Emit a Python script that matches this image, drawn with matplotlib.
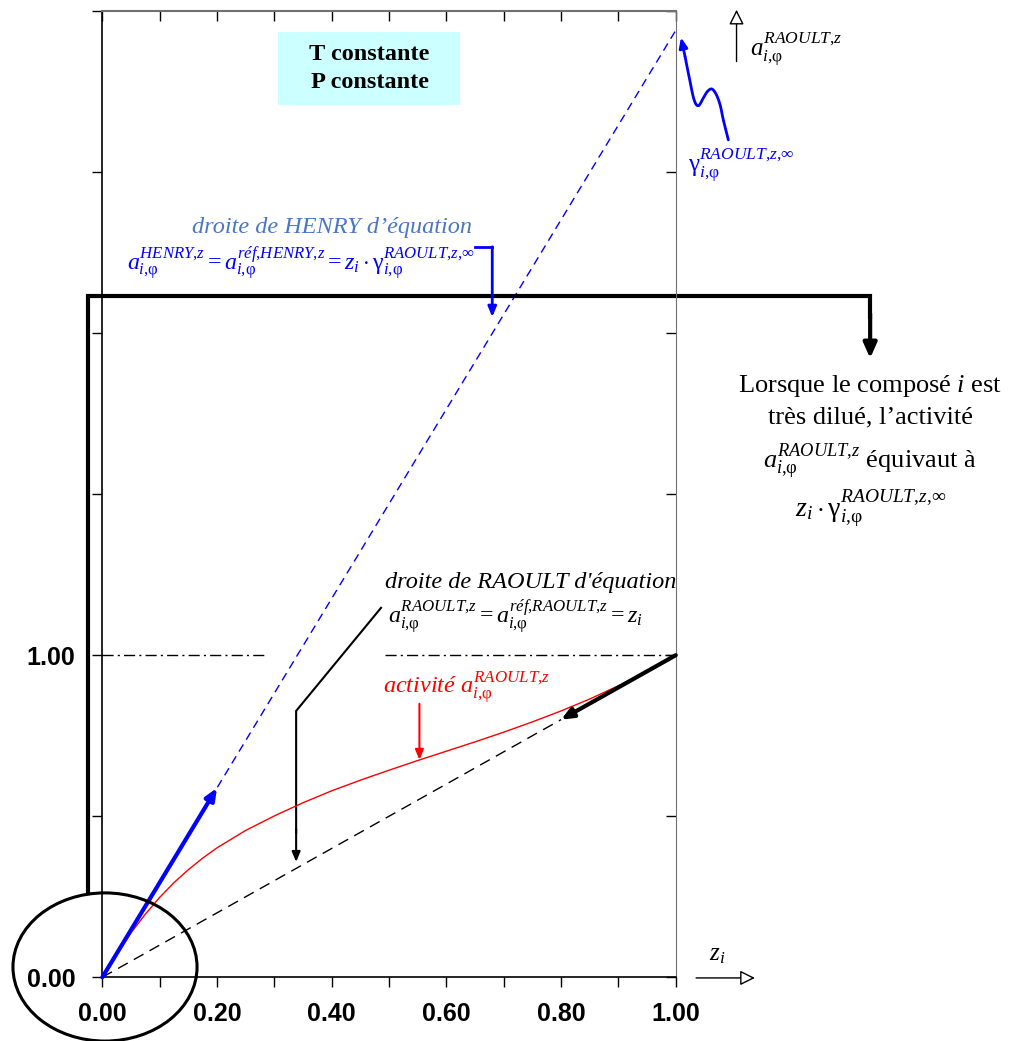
import numpy as np
import matplotlib
matplotlib.use("Agg")
import matplotlib.pyplot as plt
from matplotlib.patches import Ellipse, Rectangle

plt.rcParams['font.family'] = ['Liberation Serif', 'DejaVu Serif']
plt.rcParams['mathtext.fontset'] = 'custom'
plt.rcParams['mathtext.rm'] = 'Liberation Serif'
plt.rcParams['mathtext.it'] = 'Liberation Serif:italic'
plt.rcParams['mathtext.bf'] = 'Liberation Serif:bold'

# ---- data ----
z_activity = [0.0, 0.025, 0.05, 0.075, 0.1, 0.125, 0.15, 0.175, 0.2, 0.25, 0.3, 0.35,
              0.4, 0.45, 0.5, 0.55, 0.6, 0.65, 0.7, 0.75, 0.8, 0.85, 0.9, 0.95, 1.0]
a_activity = [0.0, 0.072, 0.138, 0.196, 0.248, 0.294, 0.334, 0.370, 0.402, 0.456, 0.501,
              0.542, 0.579, 0.612, 0.643, 0.673, 0.702, 0.731, 0.761, 0.793, 0.827,
              0.864, 0.905, 0.951, 1.0]
gamma_inf = 2.94
z_henry = [0.0, 1.0]
z_raoult_dashed = [0.0, 0.8]
x_ticks = [0.0, 0.1, 0.2, 0.3, 0.4, 0.5, 0.6, 0.7, 0.8, 0.9, 1.0]
x_labels = ['0.00', '', '0.20', '', '0.40', '', '0.60', '', '0.80', '', '1.00']
y_ticks = [0.0, 0.5, 1.0, 1.5, 2.0, 2.5, 3.0]
y_labels = ['0.00', '', '1.00', '', '', '', '']

SUB = r'_{i{,}\mathrm{\varphi}}'
GAM = r'\mathrm{\gamma}'


def smooth_path(xs, ys, n=12):
    """Catmull-Rom smoothing of a decorative annotation path."""
    P = np.column_stack([xs, ys])
    P = np.vstack([P[0], P, P[-1]])
    out = []
    for k in range(1, len(P) - 2):
        p0, p1, p2, p3 = P[k - 1], P[k], P[k + 1], P[k + 2]
        for t in np.linspace(0, 1, n, endpoint=False):
            t2, t3 = t * t, t * t * t
            out.append(0.5 * ((2 * p1) + (-p0 + p2) * t +
                              (2 * p0 - 5 * p1 + 4 * p2 - p3) * t2 +
                              (-p0 + 3 * p1 - 3 * p2 + p3) * t3))
    out.append(P[-2])
    out = np.array(out)
    return out[:, 0], out[:, 1]


fig = plt.figure(figsize=(10.11, 10.41), dpi=100)
ax = fig.add_axes([0.1012, 0.0612, 0.5672, 0.9282])
ax.set_xlim(0, 1)
ax.set_ylim(0, 3)

# curves
ax.plot(z_activity, a_activity, color='red', lw=1.0, zorder=3)
ax.plot(z_henry, [gamma_inf * z for z in z_henry], color='blue', lw=1.0,
        dashes=(6, 4), zorder=2)
ax.plot(z_raoult_dashed, z_raoult_dashed, color='black', lw=1.0, dashes=(8, 5), zorder=2)
# dash-dot reference at a = 1
ax.plot([0.0, 0.289], [1.0, 1.0], color='black', lw=1.0, dashes=(8, 3, 1.5, 3))
ax.plot([0.493, 1.0], [1.0, 1.0], color='black', lw=1.0, dashes=(8, 3, 1.5, 3))

# thick arrows
ax.annotate('', xy=(0.2, 0.2 * gamma_inf), xytext=(0, 0),
            arrowprops=dict(arrowstyle='-|>,head_length=0.7,head_width=0.3', color='blue',
                            lw=3, shrinkA=0, shrinkB=0), zorder=4)
ax.annotate('', xy=(0.8, 0.8), xytext=(1.0, 1.0),
            arrowprops=dict(arrowstyle='-|>,head_length=0.7,head_width=0.3', color='black',
                            lw=3, shrinkA=0, shrinkB=0), zorder=4)

# ticks
ax.set_xticks(x_ticks)
ax.set_xticklabels(x_labels)
ax.set_yticks(y_ticks)
ax.set_yticklabels(y_labels)
for lab in ax.get_xticklabels() + ax.get_yticklabels():
    lab.set_fontfamily('Liberation Sans')
    lab.set_fontweight('bold')
    lab.set_fontsize(18)
ax.tick_params(axis='x', direction='out', length=7.5, width=1, pad=10)
ax.tick_params(axis='y', direction='out', length=7.5, width=1, pad=12)
ax.spines['top'].set_color('#707070')
ax.spines['right'].set_color('#707070')
ax.spines['top'].set_linewidth(1.5)
for s in ['left', 'bottom']:
    ax.spines[s].set_linewidth(1.2)

secx = ax.secondary_xaxis('top')
secx.set_xticks(x_ticks)
secx.tick_params(direction='in', length=7.5, width=1, labeltop=False)
secx.spines['top'].set_visible(False)
secy = ax.secondary_yaxis('right')
secy.set_yticks(y_ticks)
secy.tick_params(direction='in', length=7.5, width=1, labelright=False)
secy.spines['right'].set_visible(False)

# T / P box
ax.add_patch(Rectangle((0.306, 2.709), 0.318, 0.227, facecolor='#ccffff',
                       edgecolor='none', zorder=1))
ax.text(0.466, 2.822, 'T constante\nP constante', ha='center', va='center',
        fontsize=17.5, fontweight='bold', linespacing=1.4, zorder=2)

# Henry annotations
henry_c = '#4a76c8'
ax.text(0.401, 2.327, 'droite de HENRY d\u2019équation', ha='center', va='center',
        fontsize=17.5, style='italic', color=henry_c)
ax.text(0.0432, 2.215,
        r'$a' + SUB + r'^{HENRY{,}z} = a' + SUB + r'^{réf{,}HENRY{,}z}'
        r' = z_i\cdot' + GAM + SUB + r'^{RAOULT{,}z{,}\infty}$',
        ha='left', va='center', fontsize=17.2, color='blue')
ax.plot([0.65, 0.68], [2.268, 2.268], color='blue', lw=2, clip_on=False)
ax.annotate('', xy=(0.68, 2.05), xytext=(0.68, 2.268), annotation_clip=False,
            arrowprops=dict(arrowstyle='-|>,head_length=0.6,head_width=0.25', color='blue',
                            lw=2, shrinkA=0, shrinkB=0))

# gamma infinity label with wavy arrow
ax.text(1.0216, 2.52, r'$' + GAM + SUB + r'^{RAOULT{,}z{,}\infty}$', ha='left',
        va='center', fontsize=18, color='blue', clip_on=False)
wx = [1.0917, 1.0830, 1.0773, 1.0703, 1.0628, 1.0551, 1.0481, 1.0394, 1.0319,
      1.0237, 1.0162]
wy = [2.600, 2.662, 2.709, 2.742, 2.758, 2.750, 2.730, 2.706, 2.725, 2.792, 2.859]
sx, sy = smooth_path(wx, wy)
ax.plot(sx, sy, color='blue', lw=2, clip_on=False, solid_capstyle='round')
ax.annotate('', xy=(1.0092, 2.918), xytext=(wx[-1], wy[-1]), annotation_clip=False,
            arrowprops=dict(arrowstyle='-|>,head_length=0.6,head_width=0.25', color='blue',
                            lw=2, shrinkA=0, shrinkB=0))

# axis arrows outside
ax.annotate('', xy=(1.106, 3.004), xytext=(1.106, 2.843), annotation_clip=False,
            arrowprops=dict(arrowstyle='-|>,head_length=0.9,head_width=0.45', fc='white',
                            ec='black', lw=1, shrinkA=0, shrinkB=0))
ax.text(1.1296, 2.88, r'$a' + SUB + r'^{RAOULT{,}z}$', ha='left', va='center',
        fontsize=18, clip_on=False)
ax.annotate('', xy=(1.138, -0.002), xytext=(1.0355, -0.002), annotation_clip=False,
            arrowprops=dict(arrowstyle='-|>,head_length=0.9,head_width=0.45', fc='white',
                            ec='black', lw=1, shrinkA=0, shrinkB=0))
ax.text(1.072, 0.069, r'$z_i$', ha='center', va='center', fontsize=18, clip_on=False)

# big black frame arrow
ax.plot([-0.025, -0.025, 1.339, 1.339], [0.262, 2.115, 2.115, 2.05], color='black',
        lw=3, clip_on=False, solid_joinstyle='miter')
ax.annotate('', xy=(1.339, 1.922), xytext=(1.339, 2.06), annotation_clip=False,
            arrowprops=dict(arrowstyle='-|>,head_length=0.9,head_width=0.4', color='black',
                            lw=3, shrinkA=0, shrinkB=0))

# ellipse
ax.add_patch(Ellipse((0.0047, 0.032), 0.321, 0.46, fill=False, ec='black', lw=2.2,
                     clip_on=False, zorder=5))

# right explanatory text
rx = 1.339
ax.text(rx, 1.835, r'Lorsque le composé $i$ est', ha='center', va='center',
        fontsize=19, clip_on=False)
ax.text(rx, 1.739, 'très dilué, l\u2019activité', ha='center', va='center',
        fontsize=19, clip_on=False)
ax.text(rx, 1.60, r'$a' + SUB + r'^{RAOULT{,}z}$ équivaut à', ha='center',
        va='center', fontsize=19, clip_on=False)
ax.text(rx, 1.455, r'$z_i\cdot' + GAM + SUB + r'^{RAOULT{,}z{,}\infty}$',
        ha='center', va='center', fontsize=20, clip_on=False)

# Raoult annotations
ax.text(0.4928, 1.2245, "droite de RAOULT d'équation", ha='left', va='center',
        fontsize=17.5, style='italic')
ax.text(0.498, 1.12,
        r'$a' + SUB + r'^{RAOULT{,}z} = a' + SUB + r'^{réf{,}RAOULT{,}z} = z_i$',
        ha='left', va='center', fontsize=17.3)
ax.plot([0.486, 0.338, 0.338], [1.147, 0.827, 0.45], color='black', lw=1.5)
ax.annotate('', xy=(0.338, 0.358), xytext=(0.338, 0.46),
            arrowprops=dict(arrowstyle='-|>,head_length=0.6,head_width=0.25', color='black',
                            lw=1.5, shrinkA=0, shrinkB=0))

# activity label
ax.text(0.4897, 0.8985, r'activité $a' + SUB + r'^{RAOULT{,}z}$', ha='left',
        va='center', fontsize=17.5, style='italic', color='red')
ax.annotate('', xy=(0.553, 0.675), xytext=(0.553, 0.849),
            arrowprops=dict(arrowstyle='-|>,head_length=0.6,head_width=0.25', color='red',
                            lw=1.5, shrinkA=0, shrinkB=0))

fig.savefig('out.png', dpi=100)
